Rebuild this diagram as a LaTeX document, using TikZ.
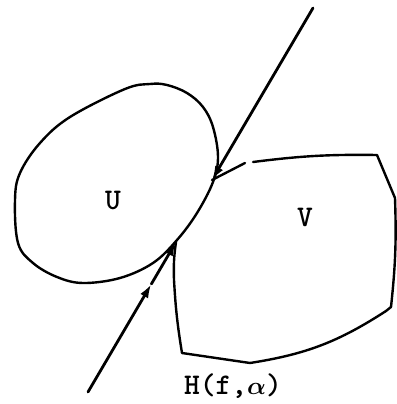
\documentclass[tikz,border=0pt]{standalone}
\usetikzlibrary{arrows.meta}
\begin{document}
\begin{tikzpicture}[x=1pt,y=-1pt,
  curve/.style={line width=2.4pt, line join=round, line cap=round},
  ray/.style={line width=2.8pt, line cap=round},
  tip/.style={-{Latex[length=14pt,width=9pt]}},
  lab/.style={font=\ttfamily\bfseries\mathversion{bold}\fontsize{30}{30}\selectfont, inner sep=0pt}]
\useasboundingbox (0,0) rectangle (396,404);
% end points of the line
\coordinate (A) at (88,392);
\coordinate (B) at (313,8);
\coordinate (T1) at (176,242);
\coordinate (T2) at (212,180);
\path (A) -- (T1) coordinate[pos=0.72] (M);
% region U
\draw[curve] plot[smooth cycle, tension=0.6] coordinates {
  (150,84) (125,89) (70,117) (40,143) (20,173) (15,200) (18,243)
  (33,263) (57,277) (83,283) (120,278) (153,263) (177,240) (197,213)
  (213,182) (218,157) (213,127) (203,107) (187,93) (167,85)};
% region V
\coordinate (V1) at (245,163);
\coordinate (V2) at (253,162);
\coordinate (V3) at (377,155);
\coordinate (V4) at (395,198);
\coordinate (V5) at (391,307);
\coordinate (V6) at (386,311);
\coordinate (V7) at (250,363);
\coordinate (V8) at (182,353);
\draw[curve] (T2) -- (V1);
\draw[curve] (V2) to[bend left=4] (V3) -- (V4) to[bend left=4] (V5) -- (V6)
  to[bend left=12] (V7) -- (V8) to[bend left=3] (174,280) to[bend left=5] (T1);
% the line with arrows
\draw[ray,tip] (A) -- (M);
\draw[ray,tip] (M) -- (T1);
\draw[ray,tip] (B) -- (T2);
% labels
\node[lab] (U) at (113,200) {U};
\node[lab] (V) at (305,217) {V};
\node[lab] (H) at (233,386) {H(f,$\alpha$)};
\end{tikzpicture}
\end{document}
